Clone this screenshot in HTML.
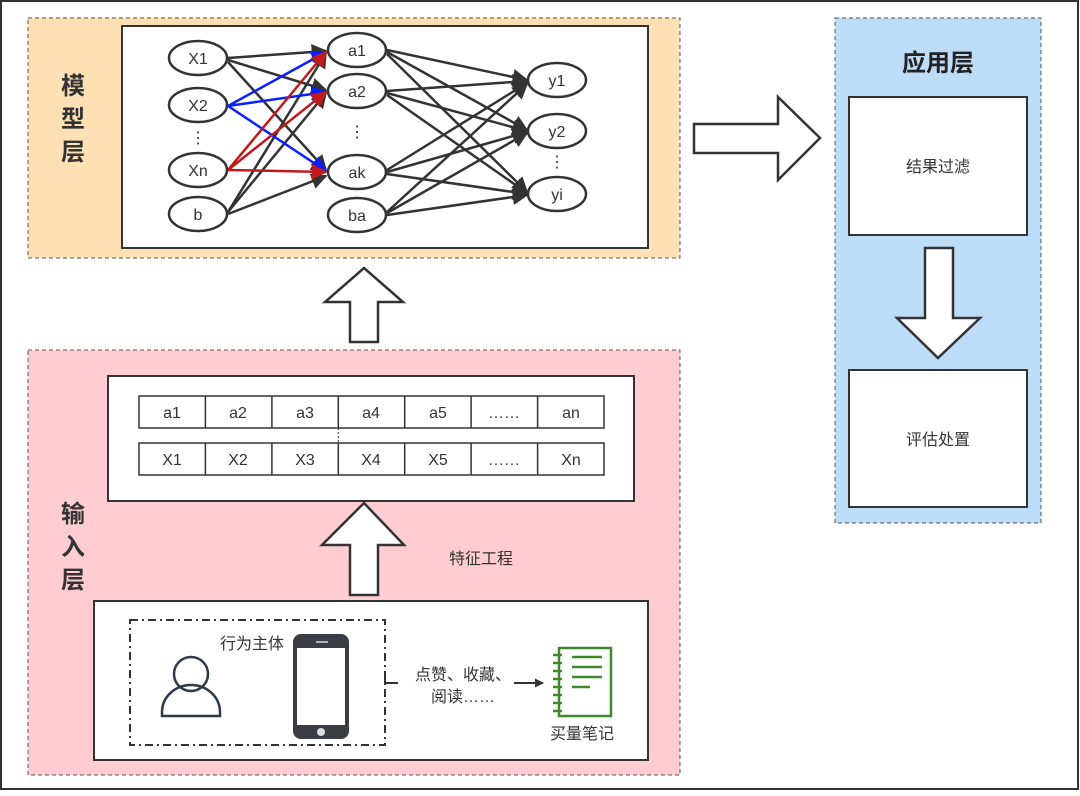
<!DOCTYPE html>
<html><head><meta charset="utf-8"><style>
body{margin:0;background:#fff}
text{font-family:"Liberation Sans","Noto Sans CJK SC",sans-serif;fill:#333}
</style></head><body>
<svg width="1080" height="791" viewBox="0 0 1080 791" xmlns="http://www.w3.org/2000/svg">
<defs>
<marker id="mk" markerWidth="9" markerHeight="9" refX="8" refY="4.5" orient="auto" markerUnits="userSpaceOnUse"><path d="M0,0 L9,4.5 L0,9 z" fill="#333"/></marker>
<marker id="ah" viewBox="0 0 10 10" refX="9" refY="5" markerWidth="16" markerHeight="16" orient="auto" markerUnits="userSpaceOnUse"><path d="M0,0 L10,5 L0,10 z" fill="#333"/></marker>
<marker id="ab" viewBox="0 0 10 10" refX="9" refY="5" markerWidth="16" markerHeight="16" orient="auto" markerUnits="userSpaceOnUse"><path d="M0,0 L10,5 L0,10 z" fill="#0a1eff"/></marker>
<marker id="ar" viewBox="0 0 10 10" refX="9" refY="5" markerWidth="16" markerHeight="16" orient="auto" markerUnits="userSpaceOnUse"><path d="M0,0 L10,5 L0,10 z" fill="#c01a1a"/></marker>
</defs>
<rect x="1" y="1" width="1077" height="788" fill="#fff" stroke="#333" stroke-width="2"/>
<!-- model layer -->
<rect x="28" y="18" width="652" height="240" fill="#fde0b3" stroke="#555" stroke-dasharray="4,3"/>
<rect x="122" y="26" width="526" height="222" fill="#fff" stroke="#333" stroke-width="2"/>
<g font-size="24" font-weight="bold" text-anchor="middle" style="fill:#222">
<text x="73" y="94">模</text><text x="73" y="127">型</text><text x="73" y="160">层</text>
</g>
<g stroke="#333" stroke-width="2.5" fill="none">
<line x1="228" y1="58" x2="326" y2="51" marker-end="url(#ah)"/>
<line x1="228" y1="60" x2="326" y2="90" marker-end="url(#ah)"/>
<line x1="228" y1="62" x2="326" y2="170" marker-end="url(#ah)"/>
<line x1="228" y1="212" x2="326" y2="53" marker-end="url(#ah)"/>
<line x1="228" y1="212" x2="326" y2="93" marker-end="url(#ah)"/>
<line x1="228" y1="214" x2="326" y2="176" marker-end="url(#ah)"/>
</g>
<g stroke="#0a1eff" stroke-width="2.5">
<line x1="228" y1="106" x2="326" y2="52" marker-end="url(#ab)"/>
<line x1="228" y1="106" x2="326" y2="92" marker-end="url(#ab)"/>
<line x1="228" y1="106" x2="326" y2="171" marker-end="url(#ab)"/>
</g>
<g stroke="#c01a1a" stroke-width="2.5">
<line x1="228" y1="170" x2="326" y2="52" marker-end="url(#ar)"/>
<line x1="228" y1="170" x2="326" y2="92" marker-end="url(#ar)"/>
<line x1="228" y1="170" x2="326" y2="172" marker-end="url(#ar)"/>
</g>
<g stroke="#333" stroke-width="2.5">
<line x1="387" y1="50" x2="527" y2="80" marker-end="url(#ah)"/>
<line x1="387" y1="52" x2="527" y2="130" marker-end="url(#ah)"/>
<line x1="387" y1="54" x2="527" y2="192" marker-end="url(#ah)"/>
<line x1="387" y1="91" x2="527" y2="81" marker-end="url(#ah)"/>
<line x1="387" y1="93" x2="527" y2="131" marker-end="url(#ah)"/>
<line x1="387" y1="95" x2="527" y2="193" marker-end="url(#ah)"/>
<line x1="387" y1="170" x2="527" y2="83" marker-end="url(#ah)"/>
<line x1="387" y1="172" x2="527" y2="132" marker-end="url(#ah)"/>
<line x1="387" y1="174" x2="527" y2="194" marker-end="url(#ah)"/>
<line x1="387" y1="212" x2="527" y2="84" marker-end="url(#ah)"/>
<line x1="387" y1="213" x2="527" y2="133" marker-end="url(#ah)"/>
<line x1="387" y1="215" x2="527" y2="195" marker-end="url(#ah)"/>
</g>
<g fill="#fff" stroke="#333" stroke-width="2.5">
<ellipse cx="198" cy="58" rx="29" ry="17"/><ellipse cx="198" cy="105" rx="29" ry="17"/>
<ellipse cx="198" cy="170" rx="29" ry="17"/><ellipse cx="198" cy="214" rx="29" ry="17"/>
<ellipse cx="357" cy="50" rx="29" ry="17"/><ellipse cx="357" cy="91" rx="29" ry="17"/>
<ellipse cx="357" cy="172" rx="29" ry="17"/><ellipse cx="357" cy="215" rx="29" ry="17"/>
<ellipse cx="557" cy="80" rx="29" ry="17"/><ellipse cx="557" cy="131" rx="29" ry="17"/>
<ellipse cx="557" cy="194" rx="29" ry="17"/>
</g>
<g font-size="16" text-anchor="middle">
<text x="198" y="64">X1</text><text x="198" y="111">X2</text><text x="198" y="176">Xn</text><text x="198" y="220">b</text>
<text x="357" y="56">a1</text><text x="357" y="97">a2</text><text x="357" y="178">ak</text><text x="357" y="221">ba</text>
<text x="557" y="86">y1</text><text x="557" y="137">y2</text><text x="557" y="200">yi</text>
<text x="198" y="143">⋮</text><text x="357" y="137">⋮</text><text x="557" y="167">⋮</text>
</g>
<!-- up arrow 1 -->
<path d="M350,342 L378,342 L378,302 L403,302 L364,268 L325,302 L350,302 Z" fill="#fff" stroke="#333" stroke-width="2.5"/>
<!-- input layer -->
<rect x="28" y="350" width="652" height="425" fill="#ffccd3" stroke="#555" stroke-dasharray="4,3"/>
<g font-size="24" font-weight="bold" text-anchor="middle" style="fill:#222">
<text x="73" y="522">输</text><text x="73" y="555">入</text><text x="73" y="588">层</text>
</g>
<rect x="108" y="376" width="526" height="125" fill="#fff" stroke="#333" stroke-width="2"/>
<g fill="#fff" stroke="#333" stroke-width="1.5">
<rect x="139" y="396" width="465" height="32"/><rect x="139" y="443" width="465" height="32"/>
</g>
<g stroke="#333" stroke-width="1.5">
<line x1="205.4" y1="396" x2="205.4" y2="428"/><line x1="271.9" y1="396" x2="271.9" y2="428"/><line x1="338.3" y1="396" x2="338.3" y2="428"/><line x1="404.7" y1="396" x2="404.7" y2="428"/><line x1="471.1" y1="396" x2="471.1" y2="428"/><line x1="537.6" y1="396" x2="537.6" y2="428"/>
<line x1="205.4" y1="443" x2="205.4" y2="475"/><line x1="271.9" y1="443" x2="271.9" y2="475"/><line x1="338.3" y1="443" x2="338.3" y2="475"/><line x1="404.7" y1="443" x2="404.7" y2="475"/><line x1="471.1" y1="443" x2="471.1" y2="475"/><line x1="537.6" y1="443" x2="537.6" y2="475"/>
</g>
<line x1="338.3" y1="428" x2="338.3" y2="443" stroke="#333" stroke-dasharray="2,2"/>
<g font-size="16" text-anchor="middle">
<text x="172" y="418">a1</text><text x="238" y="418">a2</text><text x="305" y="418">a3</text><text x="371" y="418">a4</text><text x="438" y="418">a5</text><text x="504" y="418">……</text><text x="571" y="418">an</text>
<text x="172" y="465">X1</text><text x="238" y="465">X2</text><text x="305" y="465">X3</text><text x="371" y="465">X4</text><text x="438" y="465">X5</text><text x="504" y="465">……</text><text x="571" y="465">Xn</text>
</g>
<path d="M350,595 L378,595 L378,545 L404,545 L364,503 L322,545 L350,545 Z" fill="#fff" stroke="#333" stroke-width="2.5"/>
<text x="481" y="564" font-size="16" text-anchor="middle">特征工程</text>
<rect x="94" y="601" width="554" height="159" fill="#fff" stroke="#333" stroke-width="2"/>
<rect x="130" y="620" width="255" height="125" fill="none" stroke="#333" stroke-width="2" stroke-dasharray="8,4,2,4"/>
<text x="252" y="649" font-size="16" text-anchor="middle">行为主体</text>
<circle cx="191" cy="674" r="17" fill="none" stroke="#2d3a4a" stroke-width="2.5"/>
<path d="M162,716 L220,716 L220,712 A29,27 0 0 0 162,712 Z" fill="none" stroke="#2d3a4a" stroke-width="2.5"/>
<rect x="293" y="634" width="56" height="105" rx="8" fill="#3a3d44"/>
<rect x="297" y="648" width="48" height="77" fill="#fff"/>
<circle cx="321" cy="732" r="4" fill="#ddd"/>
<line x1="316" y1="642" x2="328" y2="642" stroke="#ddd" stroke-width="1.5"/>
<polyline points="385,683 398,683" fill="none" stroke="#333" stroke-width="2"/>
<line x1="385" y1="676" x2="385" y2="683" stroke="#333" stroke-width="2"/>
<text x="463" y="680" font-size="16" text-anchor="middle">点赞、收藏、</text>
<text x="463" y="702" font-size="16" text-anchor="middle">阅读……</text>
<line x1="514" y1="683" x2="543" y2="683" stroke="#333" stroke-width="2" marker-end="url(#mk)"/>
<rect x="559" y="648" width="52" height="68" fill="#fff" stroke="#3e8a2b" stroke-width="2.5"/>
<g stroke="#3e8a2b" stroke-width="2.5">
<line x1="553" y1="655" x2="562" y2="655"/><line x1="553" y1="663" x2="562" y2="663"/><line x1="553" y1="671" x2="562" y2="671"/><line x1="553" y1="679" x2="562" y2="679"/><line x1="553" y1="687" x2="562" y2="687"/><line x1="553" y1="695" x2="562" y2="695"/><line x1="553" y1="703" x2="562" y2="703"/><line x1="553" y1="711" x2="562" y2="711"/>
<line x1="572" y1="657" x2="602" y2="657"/><line x1="572" y1="667" x2="602" y2="667"/><line x1="572" y1="677" x2="602" y2="677"/><line x1="572" y1="687" x2="590" y2="687"/>
</g>
<text x="582" y="739" font-size="16" text-anchor="middle">买量笔记</text>
<!-- right arrow -->
<path d="M694,124 L778,124 L778,97 L820,138 L778,180 L778,153 L694,153 Z" fill="#fff" stroke="#333" stroke-width="2.5"/>
<!-- application -->
<rect x="835" y="18" width="206" height="505" fill="#bddcf7" stroke="#555" stroke-dasharray="4,3"/>
<text x="938" y="71" font-size="24" font-weight="bold" text-anchor="middle" style="fill:#222">应用层</text>
<rect x="849" y="97" width="178" height="138" fill="#fff" stroke="#333" stroke-width="2"/>
<text x="938" y="172" font-size="16" text-anchor="middle">结果过滤</text>
<path d="M925,248 L953,248 L953,318 L980,318 L938,358 L897,318 L925,318 Z" fill="#fff" stroke="#333" stroke-width="2.5"/>
<rect x="849" y="370" width="178" height="137" fill="#fff" stroke="#333" stroke-width="2"/>
<text x="938" y="445" font-size="16" text-anchor="middle">评估处置</text>
</svg>
</body></html>
